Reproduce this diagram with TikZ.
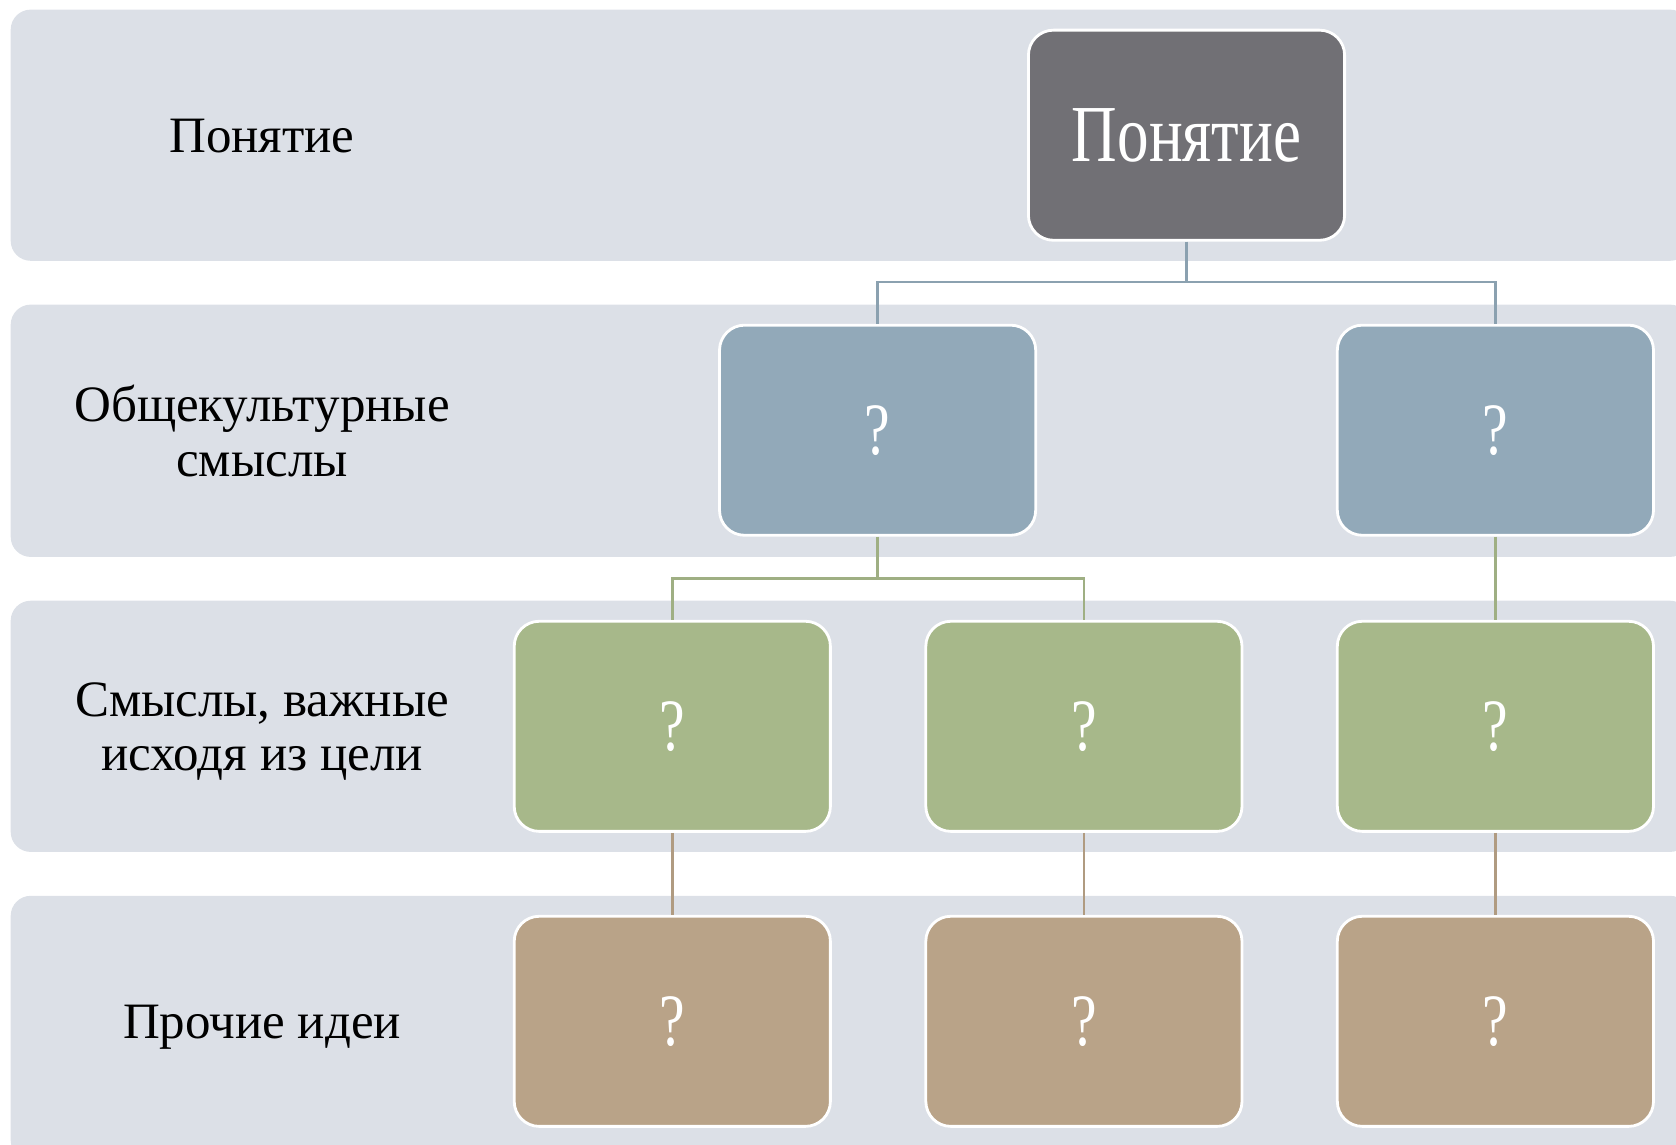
\documentclass[tikz,border=0pt]{standalone}
\usepackage{fontspec}
\setmainfont{Liberation Serif}
\newfontfamily\boxfont[FakeStretch=0.78]{Liberation Serif}
\definecolor{bandgray}{HTML}{DCE0E7}
\definecolor{topgray}{HTML}{717075}
\definecolor{blueish}{HTML}{92A9B9}
\definecolor{greenish}{HTML}{A7B88A}
\definecolor{tanish}{HTML}{B9A388}

\begin{document}
\begin{tikzpicture}[x=0.01cm,y=-0.01cm]
\tikzstyle{band} = [fill=bandgray,rounded corners=0.2cm]
\tikzstyle{lbl} = [align=center,font=\fontsize{14.5}{15.5}\selectfont]
\tikzstyle{lvlbox} = [draw=white,line width=0.8pt,rounded corners=0.25cm,minimum width=3.16cm,minimum height=2.1cm,inner sep=0pt,text=white,font=\boxfont\fontsize{21}{24}\selectfont]
\tikzstyle{con} = [line width=0.7pt]

\useasboundingbox (0,0) rectangle (1676,1144);
\clip (0,0) rectangle (1676,1144);

% bands
\fill[band] (10.7,9.6) rectangle (1690,260.8);
\fill[band] (10.7,304.6) rectangle (1690,556.9);
\fill[band] (10.7,600.7) rectangle (1690,851.9);
\fill[band] (10.7,895.8) rectangle (1690,1160);

\node[lbl] (lab1) at (262,136) {Понятие};
\node[lbl] (lab2) at (262,431) {Общекультурные\\смыслы};
\node[lbl] (lab3) at (262,731.5) {Смыслы, важные\\исходя из цели};
\node[lbl] (lab4) at (262,1027.5) {Прочие идеи};

% boxes
\node[lvlbox,fill=topgray,font=\boxfont\fontsize{23}{26}\selectfont] (top) at (1186.5,135.2) {Понятие};
\node[lvlbox,fill=blueish] (l2a) at (877.6,430.2) {?};
\node[lvlbox,fill=blueish] (l2b) at (1495.4,430.2) {?};
\node[lvlbox,fill=greenish] (l3a) at (672.3,726.3) {?};
\node[lvlbox,fill=greenish] (l3b) at (1083.9,726.3) {?};
\node[lvlbox,fill=greenish] (l3c) at (1495.4,726.3) {?};
\node[lvlbox,fill=tanish] (l4a) at (672.3,1021.3) {?};
\node[lvlbox,fill=tanish] (l4b) at (1083.9,1021.3) {?};
\node[lvlbox,fill=tanish] (l4c) at (1495.4,1021.3) {?};

% connectors
\draw[con,blueish!95!black] (top.south) -- (top.south |- 0,282.2) -| (l2a.north);
\draw[con,blueish!95!black] (top.south |- 0,282.2) -| (l2b.north);
\draw[con,greenish!95!black] (l2a.south) -- (l2a.south |- 0,578.3) -| (l3a.north);
\draw[con,greenish!95!black] (l2a.south |- 0,578.3) -| (l3b.north);
\draw[con,greenish!95!black] (l2b.south) -- (l3c.north);
\draw[con,tanish!95!black] (l3a.south) -- (l4a.north);
\draw[con,tanish!95!black] (l3b.south) -- (l4b.north);
\draw[con,tanish!95!black] (l3c.south) -- (l4c.north);
\end{tikzpicture}
\end{document}
